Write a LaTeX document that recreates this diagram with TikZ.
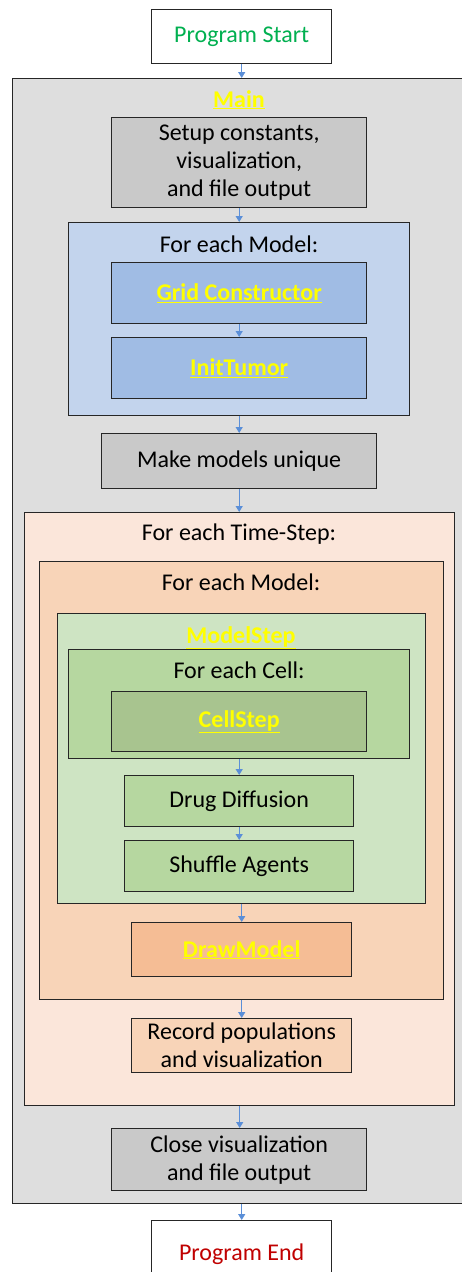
\documentclass[tikz,border=0pt]{standalone}
\usepackage{fontspec}
\setmainfont{Carlito}
\usetikzlibrary{arrows.meta,calc}
\definecolor{mainbg}{HTML}{DEDEDE}
\definecolor{graybox}{HTML}{C9C9C9}
\definecolor{blueouter}{HTML}{C3D4ED}
\definecolor{blueinner}{HTML}{A0BCE4}
\definecolor{peach}{HTML}{FBE6DA}
\definecolor{orangem}{HTML}{F8D4B8}
\definecolor{drawm}{HTML}{F5BD95}
\definecolor{greenlight}{HTML}{CEE4C3}
\definecolor{greenmid}{HTML}{B6D7A0}
\definecolor{greendark}{HTML}{A8C48F}
\definecolor{startgreen}{HTML}{00B050}
\definecolor{endred}{HTML}{C00000}
\definecolor{arrowblue}{HTML}{5B8FD8}
\definecolor{linkyellow}{HTML}{FFFF00}
\newcommand{\lnk}[1]{\textcolor{linkyellow}{\bfseries\underline{#1}}}
\begin{document}
\begin{tikzpicture}[x=1pt,y=-1pt,
  font=\fontsize{24}{28}\selectfont,
  box/.style={draw=black!85, line width=1.4pt, anchor=north west, inner sep=0pt, align=center},
  ttl/.style={inner sep=0pt, anchor=base},
  flow/.style={draw=arrowblue, line width=1.3pt, -{Triangle[width=7pt,length=6pt]}}]
\useasboundingbox (0,0) rectangle (462,1272);
\fill[white] (0,0) rectangle (462,1272);

\node[box, fill=mainbg, minimum width=470pt, minimum height=1125pt] (main) at (12,78) {};
\node[ttl] (maint) at (239,107) {\lnk{Main}};
\node[box, fill=white, minimum width=180pt, minimum height=54pt, text=startgreen] (start) at (151,9) {Program Start};
\node[box, fill=graybox, minimum width=255pt, minimum height=90pt] (setup) at (111,117) {Setup constants,\\visualization,\\and file output};

\node[box, fill=blueouter, minimum width=341pt, minimum height=193pt] (bm) at (68,222) {};
\node[ttl] (bmt) at (239,252) {For each Model:};
\node[box, fill=blueinner, minimum width=255pt, minimum height=61pt] (grid) at (111,262) {\lnk{Grid Constructor}};
\node[box, fill=blueinner, minimum width=255pt, minimum height=61pt] (init) at (111,337) {\lnk{InitTumor}};

\node[box, fill=graybox, minimum width=275pt, minimum height=55pt] (make) at (101,433) {Make models unique};

\node[box, fill=peach, minimum width=430pt, minimum height=593pt] (ts) at (24,512) {};
\node[ttl] (tst) at (239,540) {For each Time-Step:};
\node[box, fill=orangem, minimum width=404pt, minimum height=438pt] (om) at (39,561) {};
\node[ttl] (omt) at (241,590) {For each Model:};
\node[box, fill=greenlight, minimum width=368pt, minimum height=290pt] (ms) at (57,613) {};
\node[ttl] (mst) at (241,643) {\lnk{ModelStep}};
\node[box, fill=greenmid, minimum width=341pt, minimum height=109pt] (cl) at (68,649) {};
\node[ttl] (clt) at (239,678) {For each Cell:};
\node[box, fill=greendark, minimum width=255pt, minimum height=60pt] (cell) at (111,691) {\lnk{CellStep}};
\node[box, fill=greenmid, minimum width=229pt, minimum height=51pt] (drug) at (124,775) {Drug Diffusion};
\node[box, fill=greenmid, minimum width=229pt, minimum height=51pt] (shuf) at (124,840) {Shuffle Agents};
\node[box, fill=drawm, minimum width=220pt, minimum height=54pt] (dm) at (131,922) {\lnk{DrawModel}};
\node[box, fill=orangem, minimum width=220pt, minimum height=54pt] (rec) at (131,1018) {Record populations\\and visualization};

\node[box, fill=graybox, minimum width=255pt, minimum height=62pt] (close) at (111,1128) {Close visualization\\and file output};
\node[box, fill=white, minimum width=180pt, minimum height=70pt, text=endred] (end) at (151,1220) {\raisebox{8pt}{Program End}};

\draw[flow] (start.south) -- (start.south |- main.north);
\draw[flow] (setup.south) -- (setup.south |- bm.north);
\draw[flow] (grid.south) -- (init.north);
\draw[flow] (bm.south) -- (bm.south |- make.north);
\draw[flow] (make.south) -- (make.south |- ts.north);
\draw[flow] (cl.south) -- (cl.south |- drug.north);
\draw[flow] (drug.south) -- (shuf.north);
\draw[flow] (dm.north |- ms.south) -- (dm.north);
\draw[flow] (rec.north |- om.south) -- (rec.north);
\draw[flow] (ts.south) -- (ts.south |- close.north);
\draw[flow] (end.north |- main.south) -- (end.north);
\end{tikzpicture}
\end{document}
